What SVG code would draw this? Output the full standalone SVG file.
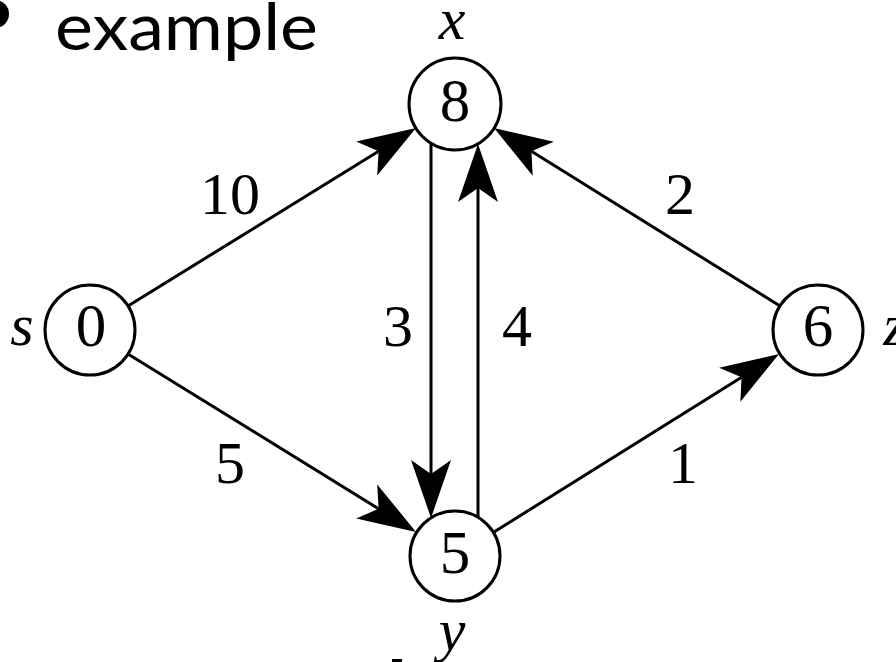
<svg xmlns="http://www.w3.org/2000/svg" width="896" height="662" viewBox="0 0 896 662">
<style>
.node{fill:#fff;stroke:#000;stroke-width:3}
.num{font-family:"Liberation Serif","Times New Roman",serif;font-size:61px;fill:#000;text-anchor:middle}
.lab{font-family:"Liberation Serif","Times New Roman",serif;font-style:italic;font-size:60px;fill:#000;text-anchor:middle}
.w{font-family:"Liberation Serif","Times New Roman",serif;font-size:60px;fill:#000;text-anchor:middle}
.edge{fill:none;stroke:#000;stroke-width:3}
</style>
<defs>
<marker id="ah" markerUnits="userSpaceOnUse" markerWidth="60" markerHeight="42" viewBox="0 0 60 42" refX="14" refY="21" orient="auto" overflow="visible">
<path d="M58,21 L0,1 L14,21 L0,41 Z" fill="#000"/>
</marker>
</defs>
<rect width="896" height="662" fill="#fff"/>
<g id="title">
<circle cx="-5" cy="14" r="14" fill="#000"/>
<text x="55" y="50" font-family="Lato,'Open Sans',sans-serif" font-size="66" textLength="263" lengthAdjust="spacingAndGlyphs">example</text>
</g>
<g id="connectors">
<line class="edge" x1="128" y1="306" x2="378.6" y2="151.2" marker-end="url(#ah)"/>
<line class="edge" x1="780" y1="306" x2="531.4" y2="151.3" marker-end="url(#ah)"/>
<line class="edge" x1="128" y1="354" x2="378.6" y2="508.8" marker-end="url(#ah)"/>
<line class="edge" x1="494" y1="532" x2="741.6" y2="377.3" marker-end="url(#ah)"/>
<line class="edge" x1="431" y1="143" x2="431" y2="474" marker-end="url(#ah)"/>
<line class="edge" x1="478" y1="517" x2="478" y2="188" marker-end="url(#ah)"/>
<text class="w" x="230" y="214">10</text>
<text class="w" x="680" y="214">2</text>
<text class="w" x="398" y="346">3</text>
<text class="w" x="517" y="346">4</text>
<text class="w" x="230" y="483">5</text>
<text class="w" x="683" y="483">1</text>
</g>
<g id="node-s">
<circle class="node" cx="90" cy="330" r="45"/>
<text class="num" x="91" y="346">0</text>
<text class="lab" x="22" y="345">s</text>
</g>
<g id="node-x">
<circle class="node" cx="455" cy="104" r="46"/>
<text class="num" x="455" y="121">8</text>
<text class="lab" x="452" y="39">x</text>
</g>
<g id="node-y">
<circle class="node" cx="455" cy="556" r="45"/>
<text class="num" x="455" y="573">5</text>
<text class="lab" x="452" y="650">y</text>
</g>
<g id="node-z">
<circle class="node" cx="818" cy="330" r="45"/>
<text class="num" x="818" y="346">6</text>
<text class="lab" x="895" y="345">z</text>
</g>
<rect x="392" y="659" width="10" height="3" fill="#000"/>
</svg>
